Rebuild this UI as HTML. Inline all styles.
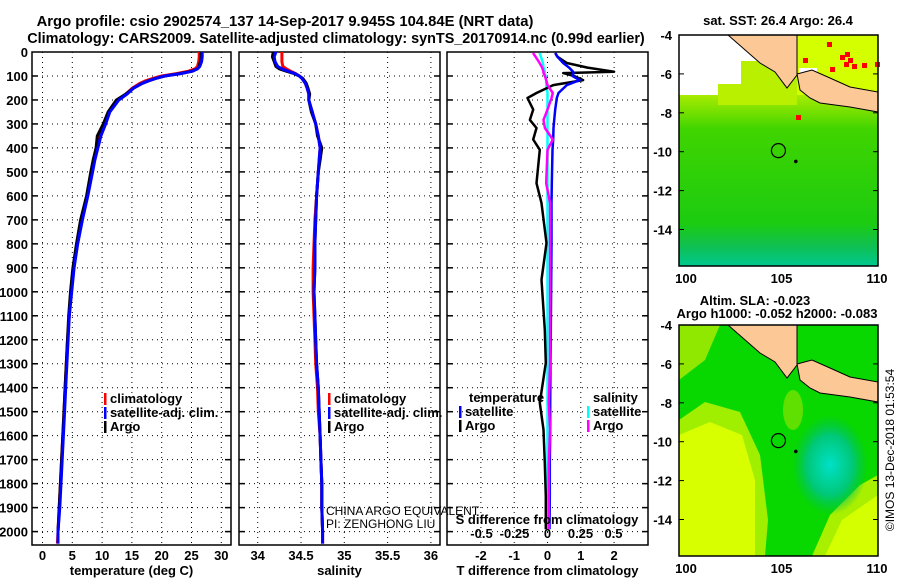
<!DOCTYPE html>
<html><head><meta charset="utf-8">
<style>
html,body{margin:0;padding:0;background:#fff;}
svg{display:block;font-family:"Liberation Sans",Arial,sans-serif;}
.b{font-weight:bold;font-size:13px;}
</style></head>
<body>
<svg id="fig" width="900" height="580" viewBox="0 0 900 580" xmlns="http://www.w3.org/2000/svg">
<g id="maps"></g>
<g id="panels"></g>
<g id="texts"></g>
</svg>
<script>
// ---------- data ----------
const depths = [0,20,40,60,70,80,90,100,110,120,130,150,175,200,250,300,350,400,450,500,600,700,800,900,1000,1100,1200,1300,1400,1500,1600,1700,1800,1900,2000,2050];
const tempArgo = [26.6,26.6,26.5,26.3,26.0,25.0,23.0,20.5,19.0,17.8,16.8,15.3,14.0,12.4,11.0,10.2,9.2,9.0,8.5,8.1,7.4,6.4,5.7,5.1,4.7,4.4,4.2,4.0,3.8,3.6,3.4,3.2,3.0,2.8,2.6,2.6];
const tempClim = [26.3,26.3,26.2,26.0,25.6,24.5,22.5,20.0,18.5,17.3,16.4,15.1,14.0,12.7,11.2,10.5,9.7,9.2,8.7,8.3,7.5,6.6,5.8,5.2,4.8,4.5,4.2,4.0,3.8,3.6,3.4,3.2,3.0,2.8,2.6,2.5];
const tempSat = [26.8,26.8,26.7,26.4,26.0,25.2,23.2,20.5,19.0,17.8,16.8,15.3,14.2,12.8,11.3,10.6,9.8,9.3,8.8,8.4,7.6,6.7,5.9,5.3,4.9,4.5,4.3,4.1,3.9,3.7,3.5,3.3,3.1,2.9,2.6,2.6];
const salArgo = [34.18,34.17,34.19,34.21,34.25,34.33,34.42,34.48,34.52,34.54,34.56,34.58,34.60,34.59,34.62,34.67,34.69,34.74,34.72,34.70,34.68,34.67,34.66,34.66,34.65,34.66,34.67,34.68,34.70,34.71,34.72,34.73,34.74,34.74,34.75,34.75];
const salClim = [34.28,34.28,34.28,34.29,34.33,34.38,34.44,34.48,34.51,34.53,34.55,34.57,34.59,34.59,34.63,34.67,34.70,34.72,34.71,34.70,34.68,34.66,34.65,34.64,34.64,34.65,34.66,34.67,34.69,34.70,34.72,34.73,34.74,34.74,34.75,34.75];
const salSat = [34.21,34.19,34.20,34.23,34.28,34.35,34.43,34.48,34.51,34.53,34.55,34.57,34.59,34.59,34.63,34.67,34.70,34.72,34.71,34.70,34.68,34.67,34.66,34.66,34.65,34.66,34.67,34.68,34.70,34.71,34.72,34.73,34.74,34.74,34.75,34.75];
const diffDepths = [4,20,46,65,82,88,100,117,138,171,192,240,283,317,365,408,547,630,797,950,1158,1297,1463,1575,1713,1852,1990];
const tDiffArgo = [0.23,0.3,0.58,1.2,2.0,0.47,0.8,1.07,0.17,-0.33,-0.6,-0.43,-0.53,-0.33,-0.43,-0.23,-0.33,-0.18,-0.03,-0.18,-0.08,-0.05,-0.23,-0.12,-0.08,-0.05,-0.05];
const tDiffSat = [0.23,0.3,0.47,0.65,0.77,0.78,0.75,0.97,0.58,0.33,0.28,0.23,0.2,0.18,0.17,0.15,0.13,0.12,0.12,0.11,0.1,0.09,0.08,0.08,0.07,0.07,0.06];
const sDiffArgo = [-0.11,-0.09,-0.06,-0.04,-0.03,-0.03,-0.02,-0.01,0.0,0.04,0.03,0.0,-0.03,-0.02,0.04,0.0,-0.01,0.02,0.02,0.02,0.02,0.02,0.01,0.02,0.01,0.01,0.01];
const sDiffSat = [-0.06,-0.05,-0.035,-0.03,-0.02,-0.02,-0.015,-0.01,-0.01,0,0,0,0,0,0,0,0,0,0,0,0,0,0,0,0,0,0];
const depthTicks = [0,100,200,300,400,500,600,700,800,900,1000,1100,1200,1300,1400,1500,1600,1700,1800,1900,2000];
const tempTicks = [0,5,10,15,20,25,30];
const salTicks = [34,34.5,35,35.5,36];
const tdTicks = [-2,-1,0,1,2];
const sdTicks = [-0.5,-0.25,0,0.25,0.5];
const sdTickLabels = ["-0.5","-0.25","0","0.25","0.5"];
const latTicks = [-4,-6,-8,-10,-12,-14];
const lonTicks = [100,105,110];

// ---------- helpers ----------
const NS="http://www.w3.org/2000/svg";
function mk(tag,attrs,parent,text){const e=document.createElementNS(NS,tag);for(const k in attrs)e.setAttribute(k,attrs[k]);if(text!==undefined)e.textContent=text;parent.appendChild(e);return e;}
const panels=document.getElementById('panels'), texts=document.getElementById('texts'), maps=document.getElementById('maps');
const TOP=52, BOT=545;
const yD = d => TOP + d*0.2398;

function panel(name,x0,x1,xf,xt,xtl,title){
  const g=mk('g',{},panels);
  
  
  depthTicks.forEach(d=>{ if(d>0){const l=mk('line',{x1:x0,x2:x1,y1:yD(d),y2:yD(d),stroke:'#000','stroke-width':1,'stroke-dasharray':'1,4'},g);
    
    mk('line',{x1:x0,x2:x0+6,y1:yD(d),y2:yD(d),stroke:'#000','stroke-width':1.5},g);
    mk('line',{x1:x1-6,x2:x1,y1:yD(d),y2:yD(d),stroke:'#000','stroke-width':1.5},g);}});
  xt.forEach((v,i)=>{const X=xf(v);
    const l=mk('line',{x1:X,x2:X,y1:TOP,y2:BOT,stroke:'#000','stroke-width':1,'stroke-dasharray':'1,4'},g);
    
    if(xtl){const t=mk('text',{x:X,y:560,'text-anchor':'middle',class:'b'},g,xtl[i]);
      }});
  const r=mk('rect',{x:x0,y:TOP,width:x1-x0,height:BOT-TOP,fill:'none',stroke:'#000','stroke-width':1.5},g);
  
  if(title){const t=mk('text',{x:(x0+x1)/2,y:575,'text-anchor':'middle',class:'b'},g,title);
    }
  return g;
}
function line(g,xf,ds,vals,color,w,name){
  const pts=ds.map((d,i)=>xf(vals[i]).toFixed(1)+','+yD(d).toFixed(1)).join(' ');
  const p=mk('polyline',{points:pts,fill:'none',stroke:color,'stroke-width':w,'stroke-linejoin':'round'},g);
  
  
}
function legend(g,x,y,items){
  items.forEach((it,i)=>{
    mk('rect',{x:x,y:y+i*14-10,width:2.5,height:12,fill:it[1]},g);
    const t=mk('text',{x:x+6,y:y+i*14,class:'b'},g,it[0]);
    
    
  });
}

depthTicks.forEach(d=>{const t=mk('text',{x:28,y:yD(d)+5,'text-anchor':'end',class:'b'},texts,String(d));
  });

const xT = v => 42.5 + v*5.96;
const p1=panel('temperature-panel',32,231,xT,tempTicks,tempTicks.map(String),'temperature (deg C)');
line(p1,xT,depths,tempClim,'#f00',3,'temperature-climatology-line');
line(p1,xT,depths.slice(0,35),tempArgo.slice(0,35),'#000',3,'temperature-argo-line');
line(p1,xT,depths,tempSat,'#00f',3,'temperature-satellite-line');
legend(p1,104,403,[['climatology','#f00'],['satellite-adj. clim.','#00f'],['Argo','#000']]);

const xS = v => 257.7 + (v-34)*86.6;
const p2=panel('salinity-panel',239,440,xS,salTicks,salTicks.map(String),'salinity');
line(p2,xS,depths,salClim,'#f00',3,'salinity-climatology-line');
line(p2,xS,depths.slice(0,35),salArgo.slice(0,35),'#000',3,'salinity-argo-line');
line(p2,xS,depths,salSat,'#00f',3,'salinity-satellite-line');
legend(p2,328,403,[['climatology','#f00'],['satellite-adj. clim.','#00f'],['Argo','#000']]);

const xTD = v => 547.5 + v*33.3;
const xSD = v => 547.5 + v*132;
const p3=panel('difference-panel',447,648,xTD,tdTicks,tdTicks.map(String),'T difference from climatology');
line(p3,xSD,diffDepths,sDiffSat,'#0ff',2.5,'salinity-satellite-diff-line');
line(p3,xTD,diffDepths,tDiffArgo,'#000',2.5,'temperature-argo-diff-line');
line(p3,xTD,diffDepths,tDiffSat,'#00f',2.5,'temperature-satellite-diff-line');
line(p3,xSD,diffDepths,sDiffArgo,'#f0f',2.5,'salinity-argo-diff-line');
{const t=mk('text',{x:469,y:402,class:'b'},p3,'temperature');}
{const t=mk('text',{x:593,y:402,class:'b'},p3,'salinity');}
legend(p3,459,416,[['satellite','#00f'],['Argo','#000']]);
legend(p3,587,416,[['satellite','#0ff'],['Argo','#f0f']]);
{const t=mk('text',{x:547,y:524,'text-anchor':'middle',class:'b'},p3,'S difference from climatology');}
sdTicks.forEach((v,i)=>{const t=mk('text',{x:xSD(v),y:538,'text-anchor':'middle',class:'b'},p3,sdTickLabels[i]);
  });

{const t=mk('text',{x:326,y:515,'font-size':12},texts,'CHINA ARGO EQUIVALENT');
 const u=mk('text',{x:326,y:528,'font-size':12},texts,'PI: ZENGHONG LIU');}

{const t=mk('text',{x:285,y:26,'text-anchor':'middle','font-weight':'bold','font-size':14.8},texts,'Argo profile: csio 2902574_137 14-Sep-2017 9.945S 104.84E (NRT data)');
 const u=mk('text',{x:336,y:43,'text-anchor':'middle','font-weight':'bold','font-size':14.4},texts,'Climatology: CARS2009. Satellite-adjusted climatology: synTS_20170914.nc (0.99d earlier)');}

// ---------- maps ----------
const MX0=679,MX1=878;
const lonX = lon => 686 + (lon-100)*19.1;
function land(g,oy){
  const sum=[[728,35],[760,63],[775,72],[787,88],[797,75],[797,35]];
  const jav=[[797,74],[812,70],[830,78],[850,87],[878,92],[878,112],[850,107],[820,103],[810,98],[800,90]];
  [sum,jav].forEach(poly=>{const p=mk('polygon',{points:poly.map(q=>q[0]+','+(q[1]+oy)).join(' '),fill:'#fcc896',stroke:'#000','stroke-width':1},g);
    });
}
function mapFrame(g,oy,name){
  const latY = lat => 35+oy + (-4-lat)*19.45;
  const r=mk('rect',{x:MX0,y:35+oy,width:MX1-MX0,height:231,fill:'none',stroke:'#000','stroke-width':1.5},g);
  
  latTicks.forEach(l=>{const t=mk('text',{x:672,y:latY(l)+5,'text-anchor':'end',class:'b'},g,String(l));
    
    mk('line',{x1:MX0,x2:MX0+5,y1:latY(l),y2:latY(l),stroke:'#000'},g);mk('line',{x1:MX1-5,x2:MX1,y1:latY(l),y2:latY(l),stroke:'#000'},g);});
  lonTicks.forEach(l=>{const t=mk('text',{x:lonX(l),y:283+oy,'text-anchor':'middle',class:'b'},g,String(l));
    });
  const c=mk('circle',{cx:lonX(104.84),cy:latY(-9.945),r:7,fill:'none',stroke:'#000','stroke-width':1.2},g);
  
  mk('circle',{cx:lonX(105.75),cy:latY(-10.5),r:1.8,fill:'#000'},g);
}
const defs=mk('defs',{},maps);
const lg=mk('linearGradient',{id:'sstg',x1:0,y1:0,x2:0,y2:1},defs);
mk('stop',{offset:'0','stop-color':'#a8ec00'},lg);mk('stop',{offset:'0.2','stop-color':'#40d400'},lg);
mk('stop',{offset:'0.75','stop-color':'#1ccc10'},lg);mk('stop',{offset:'0.88','stop-color':'#10c050'},lg);mk('stop',{offset:'1','stop-color':'#00c890'},lg);
const rg=mk('radialGradient',{id:'tealg'},defs);
mk('stop',{offset:'0','stop-color':'#00e0c8'},rg);mk('stop',{offset:'0.6','stop-color':'#00c878'},rg);mk('stop',{offset:'1','stop-color':'#00c050','stop-opacity':'0'},rg);

const m1=mk('g',{},maps);


mk('rect',{x:MX0,y:35,width:199,height:231,fill:'#fff'},m1);
mk('rect',{x:679,y:95,width:199,height:171,fill:'url(#sstg)'},m1);
mk('polygon',{points:'718,95 718,84 741,84 741,61 797,61 797,105 718,105',fill:'#b8f000'},m1);
mk('rect',{x:797,y:35,width:81,height:60,fill:'#d4ff00'},m1);
[[827,42],[803,58],[840,55],[844,62],[848,58],[852,64],[862,63],[875,62],[830,67],[812,80],[845,52]].forEach(p=>mk('rect',{x:p[0],y:p[1],width:5,height:5,fill:'#f00'},m1));
mk('rect',{x:796,y:115,width:5,height:5,fill:'#f00'},m1);
mk('rect',{x:799,y:68,width:18,height:7,fill:'#fff'},m1);
land(m1,0);
mapFrame(m1,0,'sst-map');
{const t=mk('text',{x:778,y:25,'text-anchor':'middle',class:'b'},m1,'sat. SST: 26.4 Argo: 26.4');}

const m2=mk('g',{},maps);


const oy=290;
mk('rect',{x:MX0,y:35+oy,width:199,height:231,fill:'#08d800'},m2);
mk('polygon',{points:`679,${35+oy} 720,${35+oy} 705,${70+oy} 679,${90+oy}`,fill:'#90e800'},m2);
mk('polygon',{points:`679,${130+oy} 705,${112+oy} 740,${122+oy} 760,${165+oy} 768,${230+oy} 765,${266+oy} 679,${266+oy}`,fill:'#a0ee00'},m2);
mk('polygon',{points:`679,${145+oy} 710,${132+oy} 742,${145+oy} 755,${190+oy} 755,${266+oy} 679,${266+oy}`,fill:'#d8ff00'},m2);
mk('polygon',{points:`812,${266+oy} 830,${225+oy} 860,${195+oy} 878,${185+oy} 878,${266+oy}`,fill:'#a8f000'},m2);
mk('polygon',{points:`825,${266+oy} 842,${230+oy} 878,${205+oy} 878,${266+oy}`,fill:'#d4ff00'},m2);
mk('ellipse',{cx:830,cy:175+oy,rx:38,ry:50,fill:'url(#tealg)'},m2);
mk('ellipse',{cx:793,cy:120+oy,rx:10,ry:20,fill:'#60e000'},m2);
land(m2,oy);
mapFrame(m2,oy,'sla-map');
{const t=mk('text',{x:755,y:305,'text-anchor':'middle',class:'b'},m2,'Altim. SLA: -0.023');
 const u=mk('text',{x:777,y:318,'text-anchor':'middle',class:'b'},m2,'Argo h1000: -0.052 h2000: -0.083');}
{const t=mk('text',{x:894,y:450,'text-anchor':'middle','font-size':12,transform:'rotate(-90 894 450)'},texts,'©IMOS 13-Dec-2018 01:53:54');}
</script>
</body></html>
